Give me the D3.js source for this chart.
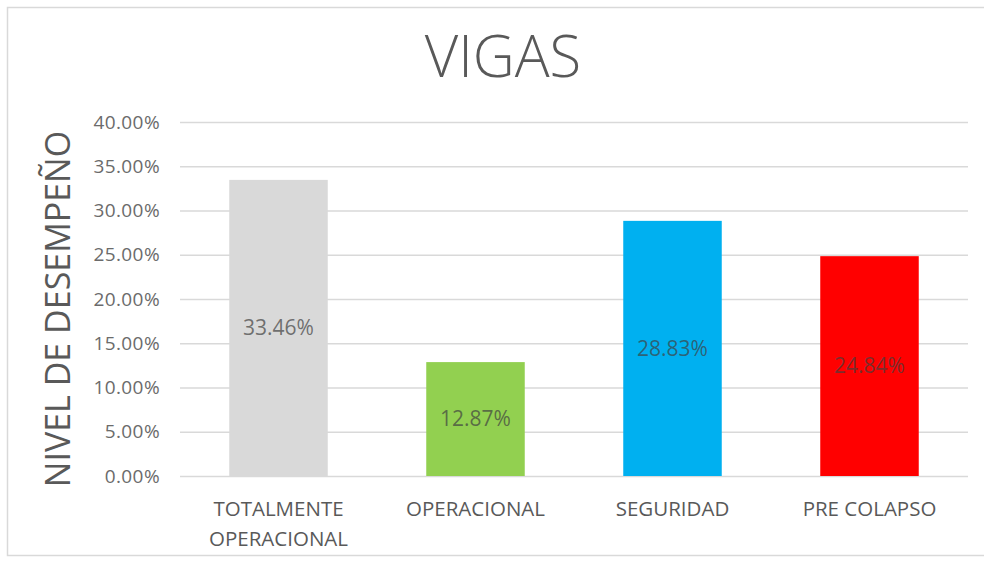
<!DOCTYPE html>
<html>
<head>
<meta charset="utf-8">
<script src="https://cdn.jsdelivr.net/npm/d3@7"></script>
<style>
  html, body { margin: 0; padding: 0; background: #fff; }
  svg { display: block; }
  text { font-family: "Open Sans", "Noto Sans", sans-serif; }
</style>
</head>
<body>
<svg id="chart" width="984" height="565"></svg>
<script>
// Performance level per category (share of beams)
const categories = [["TOTALMENTE", "OPERACIONAL"], ["OPERACIONAL"], ["SEGURIDAD"], ["PRE COLAPSO"]];
const values = [0.3346, 0.1287, 0.2883, 0.2484];
const colors = ["#d9d9d9", "#92d050", "#00b0f0", "#ff0000"];
const tickValues = [0, 0.05, 0.10, 0.15, 0.20, 0.25, 0.30, 0.35, 0.40];
const title = "VIGAS";
const yTitle = "NIVEL DE DESEMPEÑO";

const svg = d3.select("#chart");
const W = 984, H = 565;
const plot = { left: 180, right: 968, top: 122, bottom: 476 };

// outer chart frame
svg.append("rect")
  .attr("x", 7.5).attr("y", 7.5)
  .attr("width", W).attr("height", 548)
  .attr("fill", "#fff").attr("stroke", "#d9d9d9").attr("stroke-width", 1.5);

const x = d3.scaleBand()
  .domain(d3.range(values.length))
  .range([plot.left, plot.right])
  .paddingInner(0.5).paddingOuter(0.25);

const y = d3.scaleLinear().domain([0, 0.40]).range([plot.bottom, plot.top]);

// gridlines and tick labels
const yAxis = d3.axisLeft(y)
  .tickValues(tickValues)
  .tickFormat(d3.format(".2%"))
  .tickSize(-(plot.right - plot.left))
  .tickPadding(20);

const gy = svg.append("g")
  .attr("transform", `translate(${plot.left},0)`)
  .call(yAxis);
gy.select(".domain").remove();
gy.selectAll(".tick line").attr("stroke", "#d9d9d9").attr("stroke-width", 1.5);
gy.selectAll(".tick text")
  .attr("fill", "#6b6b6b")
  .attr("font-size", 19)
  .attr("letter-spacing", 0.4)
  .attr("font-family", "'Open Sans', sans-serif");

// bars
svg.append("g").selectAll("rect")
  .data(values)
  .join("rect")
  .attr("x", (d, i) => x(i))
  .attr("width", x.bandwidth())
  .attr("y", d => y(d))
  .attr("height", d => y(0) - y(d))
  .attr("fill", (d, i) => colors[i]);

// value labels centred in each bar
svg.append("g").selectAll("text")
  .data(values)
  .join("text")
  .attr("x", (d, i) => x(i) + x.bandwidth() / 2)
  .attr("y", d => (y(d) + y(0)) / 2)
  .attr("dy", "0.35em")
  .attr("text-anchor", "middle")
  .attr("font-size", 21)
  .attr("fill", "#404040")
  .attr("fill-opacity", 0.7)
  .text(d => d3.format(".2%")(d));

// category labels
const gx = svg.append("g").selectAll("text")
  .data(categories)
  .join("text")
  .attr("x", (d, i) => x(i) + x.bandwidth() / 2)
  .attr("y", 516)
  .attr("text-anchor", "middle")
  .attr("font-size", 20.5)
  .attr("fill", "#595959");
gx.selectAll("tspan")
  .data(d => d)
  .join("tspan")
  .attr("x", function () { return d3.select(this.parentNode).attr("x"); })
  .attr("dy", (d, i) => i === 0 ? 0 : 30)
  .text(d => d);

// chart title
svg.append("text")
  .attr("x", 503).attr("y", 77)
  .attr("text-anchor", "middle")
  .attr("font-size", 58)
  .attr("font-weight", 300)
  .attr("fill", "#595959")
  .text(title);

// y-axis title
svg.append("text")
  .attr("transform", `translate(70,${(plot.top + plot.bottom) / 2 + 10}) rotate(-90)`)
  .attr("text-anchor", "middle")
  .attr("font-size", 34)
  .attr("fill", "#595959")
  .text(yTitle);
</script>
</body>
</html>
